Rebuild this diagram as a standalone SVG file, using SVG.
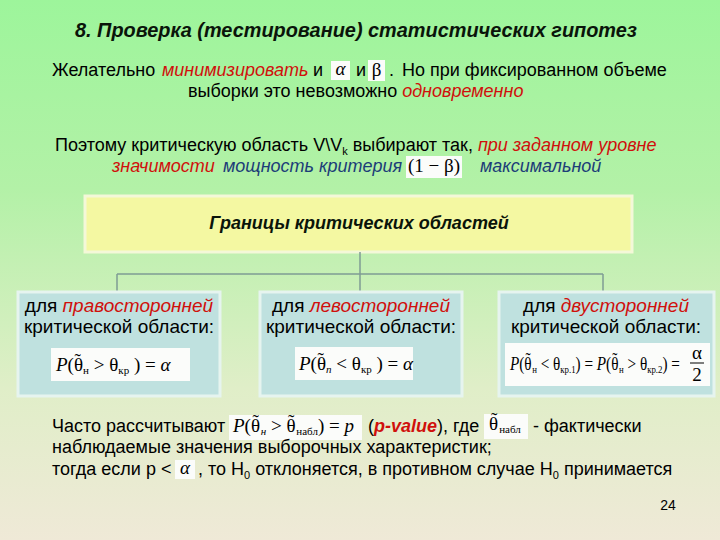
<svg xmlns="http://www.w3.org/2000/svg" width="720" height="540" viewBox="0 0 720 540">
<defs>
<linearGradient id="bg" x1="0" y1="0" x2="0" y2="1">
<stop offset="0" stop-color="#9df59b"/>
<stop offset="0.35" stop-color="#b3f1a7"/>
<stop offset="0.72" stop-color="#e0eec8"/>
<stop offset="1" stop-color="#efe9d7"/>
</linearGradient>
<style>
.t{font-family:"Liberation Sans",Arial,sans-serif;font-size:18px;fill:#000}
.bx{font-size:19px}
.r{fill:#d0100c;font-style:italic}
.b{fill:#1c3d78;font-style:italic}
.f{font-family:"Liberation Serif","Times New Roman",serif;font-size:19px;fill:#000}
.i{font-style:italic}
.s{font-size:11px}
.wb{fill:#fbfcfa}
.blue{fill:#bfe1df;stroke:#e6f4ef;stroke-width:3}
.con{fill:none;stroke:#7f9c94;stroke-width:1.5}
</style>
</defs>
<rect x="0" y="0" width="720" height="540" fill="url(#bg)"/>

<text x="75" y="37" font-family="'Liberation Sans',Arial,sans-serif" font-size="21" font-weight="bold" font-style="italic" fill="#0a140a" textLength="562" lengthAdjust="spacingAndGlyphs">8. Проверка (тестирование) статистических гипотез</text>

<!-- paragraph 1 -->
<text class="t" x="52" y="76">Желательно</text>
<text class="t r" x="162" y="76">минимизировать</text>
<text class="t" x="313" y="76">и</text>
<rect class="wb" x="331" y="61" width="19" height="19"/>
<text class="f i" x="340.5" y="75" text-anchor="middle" font-size="16">α</text>
<text class="t" x="356" y="76">и</text>
<rect class="wb" x="368" y="60" width="17" height="21"/>
<text class="f" x="376.5" y="76" text-anchor="middle">β</text>
<text class="t" x="389" y="76">.</text>
<text class="t" x="402" y="76">Но при фиксированном объеме</text>
<text class="t" x="188" y="97">выборки это невозможно <tspan class="r">одновременно</tspan></text>

<!-- paragraph 2 -->
<text class="t" x="55" y="151">Поэтому критическую область V\V<tspan class="s" dy="4">k</tspan><tspan dy="-4"> выбирают так, </tspan><tspan class="r">при заданном уровне</tspan></text>
<text class="t r" x="112" y="172">значимости</text>
<text class="t b" x="223" y="172">мощность критерия</text>
<rect class="wb" x="406" y="156" width="56" height="22"/>
<text class="f" x="434" y="172" text-anchor="middle" font-size="18">(1 − β)</text>
<text class="t b" x="480" y="172">максимальной</text>

<!-- top node -->
<g id="top">
<rect x="85" y="196" width="547" height="56" fill="#f4f8a2" stroke="#f4f8d8" stroke-width="3"/>
<text x="359" y="229" text-anchor="middle" font-family="'Liberation Sans',Arial,sans-serif" font-size="18" font-weight="bold" font-style="italic" fill="#0a140a">Границы критических областей</text>
</g>

<g id="connectors">
<path class="con" d="M360 252V274M117 274H603M117 274V292M360 274V292M603 274V292"/>
</g>

<g id="right-sided">
<rect class="blue" x="18" y="292" width="202" height="104"/>
<text class="t bx" x="119" y="312" text-anchor="middle">для <tspan class="r">правосторонней</tspan></text>
<text class="t bx" x="119" y="333" text-anchor="middle">критической области:</text>
<rect class="wb" x="51" y="348" width="139" height="33"/>
<text class="f" x="56" y="371"><tspan class="i">P</tspan>(θ<tspan dx="-8.5" dy="-4">˜</tspan><tspan class="s" dx="2.2" dy="7">н</tspan><tspan dy="-3"> &gt; θ</tspan><tspan class="s" dy="3">кр</tspan><tspan dy="-3"> ) = </tspan><tspan class="i">α</tspan></text>
</g>

<g id="left-sided">
<rect class="blue" x="260" y="292" width="202" height="104"/>
<text class="t bx" x="361" y="312" text-anchor="middle">для <tspan class="r">левосторонней</tspan></text>
<text class="t bx" x="361" y="333" text-anchor="middle">критической области:</text>
<rect class="wb" x="295" y="347" width="118" height="33"/>
<text class="f" x="299" y="370"><tspan class="i">P</tspan>(θ<tspan dx="-8.5" dy="-4">˜</tspan><tspan class="s i" dx="2.2" dy="7">n</tspan><tspan dy="-3"> &lt; θ</tspan><tspan class="s" dy="3">кр</tspan><tspan dy="-3"> ) = </tspan><tspan class="i">α</tspan></text>
</g>

<g id="two-sided">
<rect class="blue" x="499" y="292" width="215" height="104"/>
<text class="t bx" x="606" y="312" text-anchor="middle">для <tspan class="r">двусторонней</tspan></text>
<text class="t bx" x="606" y="333" text-anchor="middle">критической области:</text>
<rect class="wb" x="505" y="343" width="205" height="43"/>
<text class="f" transform="translate(510,370) scale(0.8,1)" x="0" y="0" font-size="17"><tspan class="i">P</tspan>(θ<tspan dx="-7.6" dy="-4">˜</tspan><tspan class="s" dx="2" dy="7">н</tspan><tspan dy="-3"> &lt; θ</tspan><tspan class="s" dy="3">кр.1</tspan><tspan dy="-3">) = </tspan><tspan class="i">P</tspan>(θ<tspan dx="-7.6" dy="-4">˜</tspan><tspan class="s" dx="2" dy="7">н</tspan><tspan dy="-3"> &gt; θ</tspan><tspan class="s" dy="3">кр.2</tspan><tspan dy="-3">) =</tspan></text>
<text class="f" x="697" y="359" text-anchor="middle" font-size="16">α</text>
<line x1="690" y1="363" x2="704" y2="363" stroke="#000" stroke-width="1"/>
<text class="f" x="697" y="381" text-anchor="middle" font-size="16">2</text>
</g>

<!-- bottom text -->
<text class="t" x="52" y="432">Часто рассчитывают</text>
<rect class="wb" x="229" y="415" width="133" height="25"/>
<text class="f" x="233" y="432" font-size="17"><tspan class="i">P</tspan>(θ<tspan dx="-7.6" dy="-4">˜</tspan><tspan class="s i" dx="2" dy="7">н</tspan><tspan dy="-3"> &gt; θ</tspan><tspan dx="-7.6" dy="-4">˜</tspan><tspan class="s" dx="2" dy="7">набл</tspan><tspan dy="-3">) = </tspan><tspan class="i">p</tspan></text>
<text class="t" x="368" y="432">(<tspan class="r" font-weight="bold">p-value</tspan>), где</text>
<rect class="wb" x="484" y="414" width="44" height="25"/>
<text class="f" x="489" y="430" font-size="16">θ<tspan dx="-7.2" dy="-4">˜</tspan><tspan class="s" dx="1.9" dy="7">набл</tspan></text>
<text class="t" x="533" y="432">- фактически</text>
<text class="t" x="52" y="453">наблюдаемые значения выборочных характеристик;</text>
<text class="t" x="52" y="475">тогда если р &lt;</text>
<rect class="wb" x="175" y="460" width="20" height="19"/>
<text class="f i" x="185" y="474" text-anchor="middle" font-size="16">α</text>
<text class="t" x="198" y="475">, то H<tspan class="s" dy="4">0</tspan><tspan dy="-4"> отклоняется, в противном случае H</tspan><tspan class="s" dy="4">0</tspan><tspan dy="-4"> принимается</tspan></text>

<text x="668" y="510" text-anchor="middle" font-family="'Liberation Sans',Arial,sans-serif" font-size="14" fill="#000">24</text>
</svg>
